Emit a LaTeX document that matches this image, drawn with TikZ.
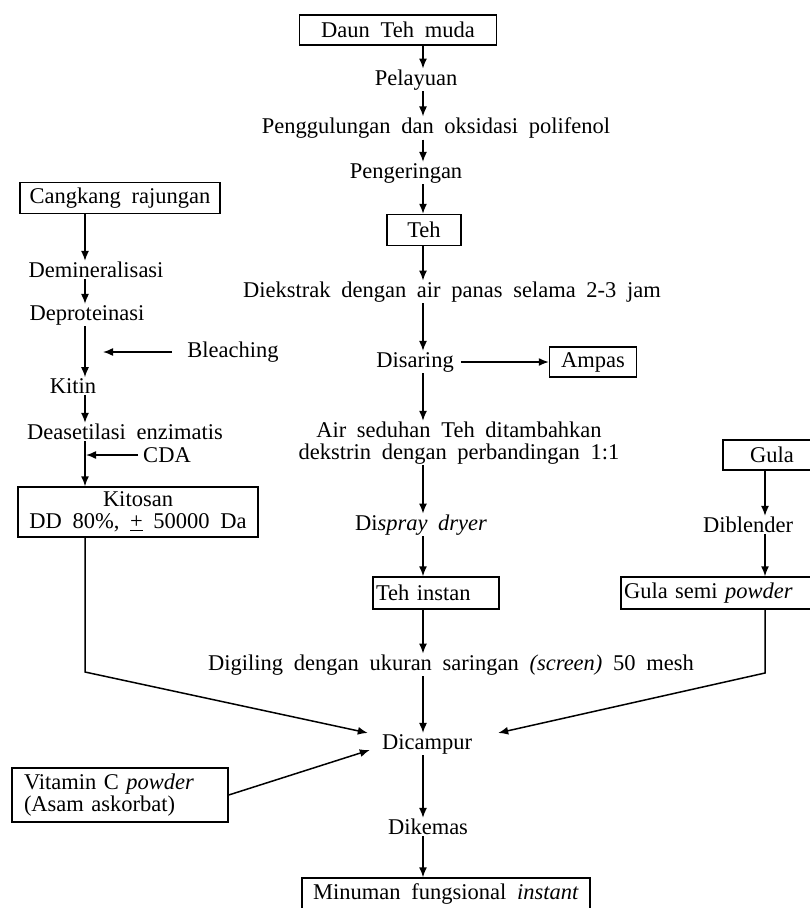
\documentclass[tikz,border=0pt]{standalone}
\usepackage{fontspec}
\setmainfont{Liberation Serif}[WordSpace=1.9]
\usetikzlibrary{arrows.meta}

\begin{document}
\begin{tikzpicture}[
    x=1pt, y=-1pt,
    font=\fontsize{22.5}{21.5}\selectfont,
    box/.style={rectangle, draw, line width=1.4pt, inner sep=2pt, align=center},
    txt/.style={inner sep=1pt, align=center},
    arrow/.style={-{Latex[length=10pt,width=8pt]}, line width=1.5pt}
]
\useasboundingbox (0,0) rectangle (810,908);
\coordinate (mid) at (423,0);
\coordinate (lft) at (85,0);
\coordinate (rgt) at (765,0);

% tea column
\node[box, minimum width=197pt, minimum height=30pt] (daun) at (398,30) {Daun Teh muda};
\node[txt] (layu) at (416,80) {Pelayuan};
\node[txt] (gulung) at (436,128) {Penggulungan dan oksidasi polifenol};
\node[txt] (kering) at (406,173) {Pengeringan};
\node[box, minimum width=74pt, minimum height=31pt] (teh) at (424,230) {Teh};
\node[txt] (ekstrak) at (452,292) {Diekstrak dengan air panas selama 2-3 jam};
\node[txt] (saring) at (415,362) {Disaring};
\node[box, minimum width=87pt, minimum height=30pt] (ampas) at (593,362) {Ampas};
\node[txt] (seduh) at (459,443) {Air seduhan Teh ditambahkan\\dekstrin dengan perbandingan 1:1};
\node[txt] (spray) at (421,525) {Di\textit{spray dryer}};
\node[box, minimum height=32pt, inner xsep=3pt, text width=120pt, align=left] (instan) at (436,593) {Teh instan};
\node[txt] (giling) at (451,665) {Digiling dengan ukuran saringan \textit{(screen)} 50 mesh};
\node[txt] (campur) at (427,744) {Dicampur};
\node[txt] (kemas) at (428,827) {Dikemas};
\node[box, minimum width=288pt, minimum height=32pt] (minum) at (446,894) {Minuman fungsional \textit{instant}};

\draw[arrow] (daun.south -| mid) -- (layu.north -| mid);
\draw[arrow] (layu.south -| mid) -- (gulung.north -| mid);
\draw[arrow] (gulung.south -| mid) -- (kering.north -| mid);
\draw[arrow] (kering.south -| mid) -- (teh.north -| mid);
\draw[arrow] (teh.south -| mid) -- (ekstrak.north -| mid);
\draw[arrow] (ekstrak.south -| mid) -- (saring.north -| mid);
\draw[arrow] ([xshift=6pt]saring.east) -- (ampas.west);
\draw[arrow] (saring.south -| mid) -- (seduh.north -| mid);
\draw[arrow] (seduh.south -| mid) -- (spray.north -| mid);
\draw[arrow] (spray.south -| mid) -- (instan.north -| mid);
\draw[arrow] (instan.south -| mid) -- (giling.north -| mid);
\draw[arrow] (giling.south -| mid) -- (campur.north -| mid);
\draw[arrow] (campur.south -| mid) -- (kemas.north -| mid);
\draw[arrow] (kemas.south -| mid) -- (minum.north -| mid);

% crab shell column
\node[box, minimum width=200pt, minimum height=31pt] (cangkang) at (120,198) {Cangkang rajungan};
\node[txt] (mineral) at (96,270) {Demineralisasi};
\node[txt] (protein) at (87,315) {Deproteinasi};
\node[txt] (bleach) at (233,352) {Bleaching};
\coordinate (bleachend) at (103,352);
\node[txt] (kitin) at (73,386) {Kitin};
\node[txt] (asetil) at (125,432) {Deasetilasi enzimatis};
\node[txt] (cda) at (167,455) {CDA};
\node[box, minimum width=240pt, minimum height=50pt] (kitosan) at (138,512) {Kitosan\\[1pt]DD 80\%, \underline{+} 50000 Da};

\draw[arrow] (cangkang.south -| lft) -- (mineral.north -| lft);
\draw[arrow] (mineral.south -| lft) -- (protein.north -| lft);
\draw[arrow] (protein.south -| lft) -- (kitin.north -| lft);
\draw[arrow] ([xshift=-14pt]bleach.west) -- (bleachend);
\draw[arrow] (kitin.south -| lft) -- (asetil.north -| lft);
\draw[arrow] (asetil.south -| lft) -- (kitosan.north -| lft);
\draw[arrow] ([xshift=-4pt]cda.west) -- ([xshift=1pt]cda.west -| lft);

% sugar column
\node[box, minimum width=98pt, minimum height=30pt] (gula) at (772,455) {Gula};
\node[txt] (blender) at (748,525) {Diblender};
\node[box, minimum height=32pt, inner xsep=3pt, text width=188pt, align=left] (semi) at (718,593) {Gula semi \textit{powder}};

\draw[arrow] (gula.south -| rgt) -- (blender.north -| rgt);
\draw[arrow] (blender.south -| rgt) -- (semi.north -| rgt);

% joins into mixing
\node[box, minimum height=54pt, inner xsep=12pt, text width=192pt, align=left] (vitc) at (120,795) {Vitamin C \textit{powder}\\[1pt](Asam askorbat)};
\coordinate (lbend) at (85,672);
\coordinate (rbend) at (765,673);

\draw[arrow] (kitosan.south -| lft) -- (lbend) -- ([xshift=-13pt]campur.north west);
\draw[arrow] (semi.south -| rgt) -- (rbend) -- ([xshift=25pt]campur.north east);
\draw[arrow] (vitc.east) -- ([xshift=-11pt, yshift=-6pt]campur.west);
\end{tikzpicture}
\end{document}
